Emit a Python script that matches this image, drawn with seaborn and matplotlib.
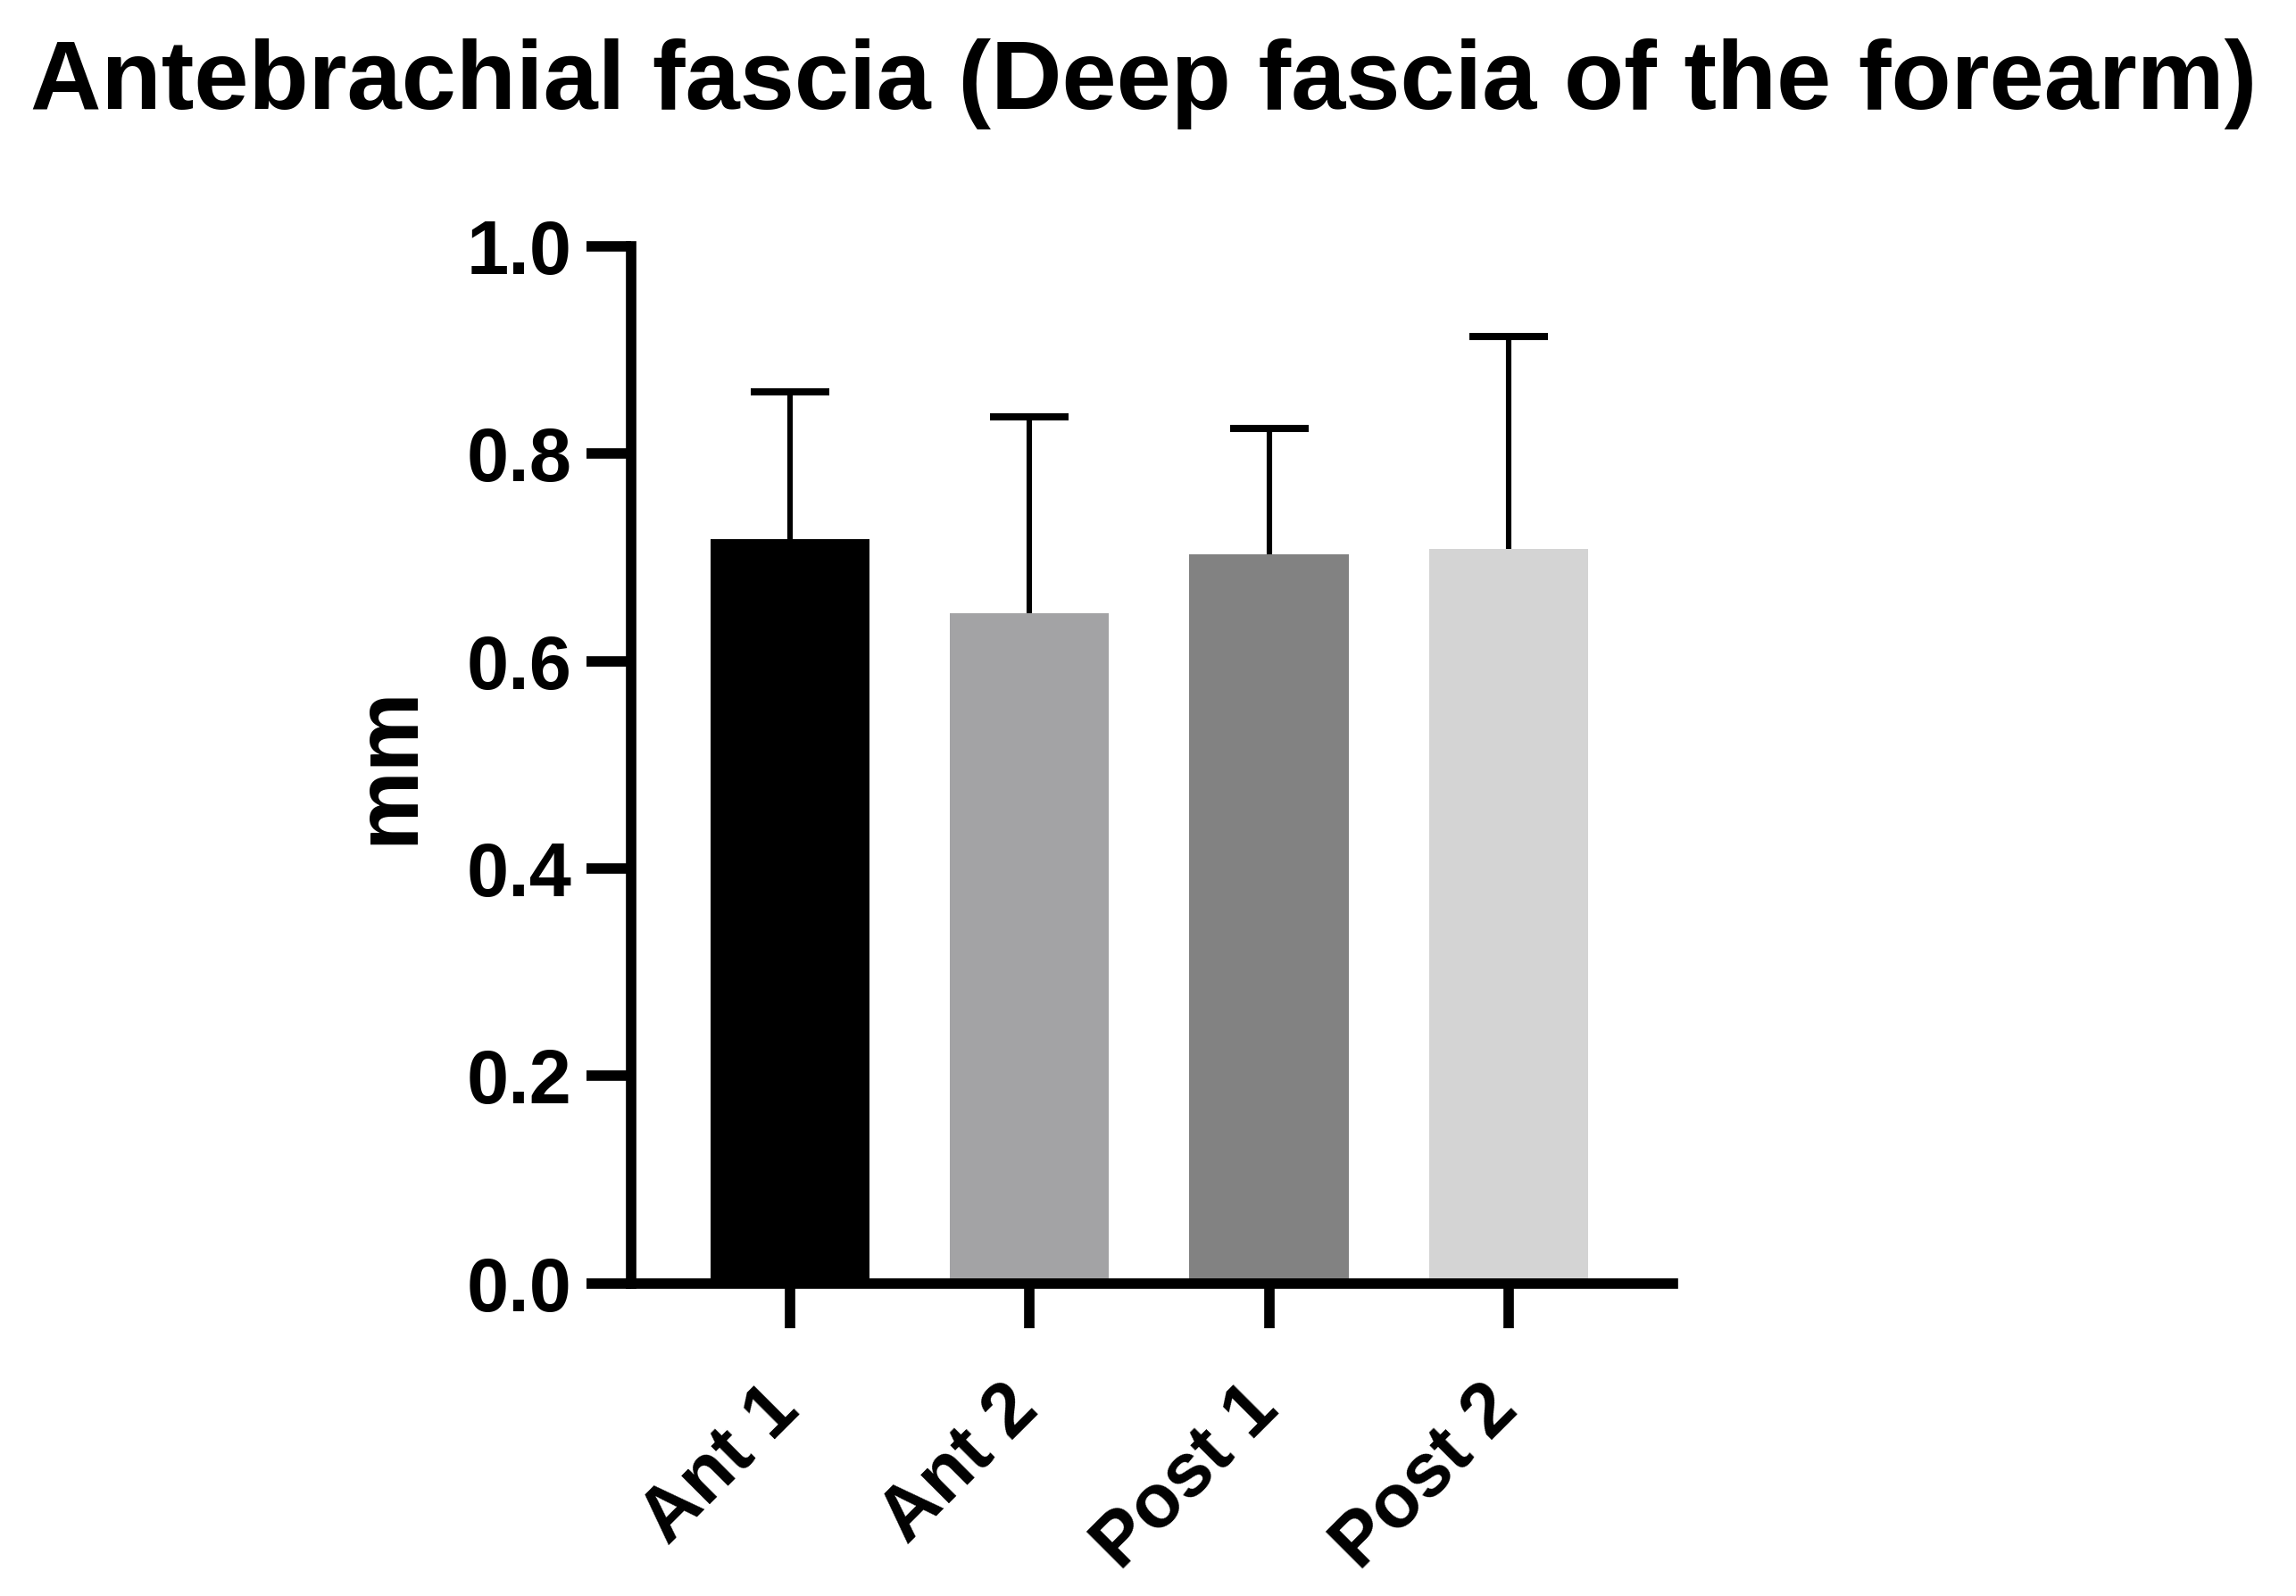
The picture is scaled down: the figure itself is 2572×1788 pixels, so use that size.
import matplotlib
matplotlib.use("Agg")
import matplotlib.pyplot as plt
import matplotlib.transforms as mtransforms
import numpy as np
import seaborn as sns

# values (mean and upper SD)
groups = ["Ant 1", "Ant 2", "Post 1", "Post 2"]
means = [0.718, 0.646, 0.703, 0.708]
sds = [0.142, 0.190, 0.121, 0.205]
colors = ["#000000", "#a2a2a6", "#828282", "#d4d4d4"]
yticks = [0.0, 0.2, 0.4, 0.6, 0.8, 1.0]
title = "Antebrachial fascia (Deep fascia of the forearm)"

sns.set_style("ticks")
plt.rcParams["font.family"] = ["Liberation Sans", "DejaVu Sans"]
plt.rcParams["font.weight"] = "bold"
plt.rcParams["text.color"] = "black"
plt.rcParams["axes.labelcolor"] = "black"
plt.rcParams["xtick.color"] = "black"
plt.rcParams["ytick.color"] = "black"

fig = plt.figure(figsize=(12.86, 8.94), dpi=200)
ax = fig.add_axes([0.2749, 0.1960, 0.4537, 0.6496])

sns.barplot(x=groups, y=means, hue=groups, palette=colors, legend=False,
            width=0.664, linewidth=0, errorbar=None, ax=ax)

x = np.arange(len(groups))
_, caps, _ = ax.errorbar(x, means, yerr=[np.zeros(len(sds)), sds], fmt="none",
                         ecolor="black", elinewidth=2.2, capsize=16, capthick=2.9)
caps[0].set_visible(False)

ax.set_xlim(-0.663, 3.686)
ax.set_ylim(0, 1.0)
ax.set_yticks(yticks)
ax.set_yticklabels([f"{t:.1f}" for t in yticks])

for side in ["top", "right"]:
    ax.spines[side].set_visible(False)
for side in ["left", "bottom"]:
    ax.spines[side].set_linewidth(4.2)
    ax.spines[side].set_color("black")

ax.tick_params(axis="both", length=18, width=4.2, color="black",
               labelcolor="black", labelsize=30.5)
ax.tick_params(axis="y", pad=6)
ax.tick_params(axis="x", pad=34)

shift = mtransforms.ScaledTranslation(4.7 / 72, 0, fig.dpi_scale_trans)
for lab in ax.get_xticklabels():
    lab.set_rotation(45)
    lab.set_ha("right")
    lab.set_va("baseline")
    lab.set_rotation_mode("anchor")
    lab.set_fontweight("bold")
    lab.set_transform(lab.get_transform() + shift)
for lab in ax.get_yticklabels():
    lab.set_fontweight("bold")

ax.set_xlabel("")
ax.set_ylabel("mm", fontsize=36, fontweight="bold", color="black")
ax.yaxis.set_label_coords(-0.192, 0.5)

fig.text(0.498, 0.9318, title, ha="center", va="baseline", fontsize=39.6,
         fontweight="bold", color="black")

fig.savefig("out.png", dpi=200)
